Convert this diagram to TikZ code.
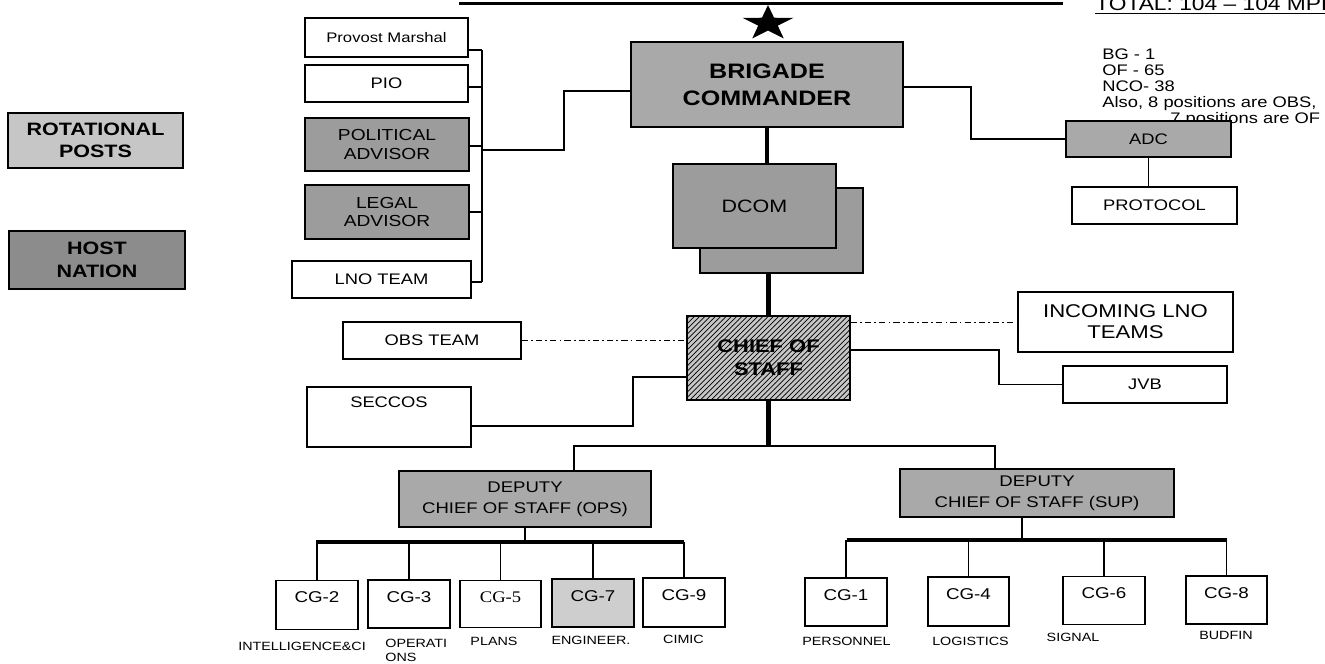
\documentclass[tikz,border=0pt]{standalone}
\usepackage{fontspec}
\setmainfont{Liberation Sans}[FakeStretch=1.2]
\newfontfamily\cgserif{Liberation Serif}[FakeStretch=1.15]
\usetikzlibrary{calc, patterns, shapes.geometric}
\definecolor{rotgray}{HTML}{C6C6C6}
\definecolor{hostgray}{HTML}{8C8C8C}
\definecolor{cmdgray}{HTML}{A9A9A9}
\definecolor{advgray}{HTML}{9C9C9C}
\definecolor{engray}{HTML}{CECECE}
\tikzset{
  post/.style={draw, line width=0.9pt, inner sep=0pt, align=center},
  sz/.style 2 args={minimum width=#1*0.02cm, minimum height=#2*0.02cm},
  link/.style={line width=0.75pt},
  spine/.style={line width=2.8pt},
  dashdot/.style={line width=0.55pt, dash pattern=on 3.5pt off 1.8pt on 1pt off 1.8pt},
  toptext/.style={anchor=north, inner sep=0pt},
  cgtxt/.style={toptext, yshift=-0.24cm, font=\fontsize{8.9}{10}\selectfont},
  caption/.style={inner sep=0pt, font=\fontsize{6.8}{7.9}\selectfont},
  every node/.append style={font=\fontsize{8.7}{10.4}\selectfont}
}

\begin{document}
\begin{tikzpicture}[x=0.02cm, y=-0.02cm]
\useasboundingbox (0,0) rectangle (1325,663);
\draw[line width=1.3pt] (459,3.5) -- (1063,3.5);
\node[anchor=base west, inner sep=0pt, font=\fontsize{10.8}{12}\selectfont] (total) at (1095,10) {TOTAL: 104 – 104 MPF};
\draw[link] ([yshift=-0.07cm]total.base west) -- ([yshift=-0.07cm]total.base east);
\begin{scope}[shift={(768,23.5)}, xscale=1.45]
\node[star, star points=5, star point ratio=2.6, fill=black, inner sep=0pt, minimum size=0.74cm, transform shape] (star) at (0,0) {};
\end{scope}

\node[post, sz={175}{55}, fill=rotgray, font=\bfseries\fontsize{10.2}{12.5}\selectfont] (rot) at (95.5,140.5) {ROTATIONAL\\POSTS};
\node[post, sz={176}{58}, fill=hostgray, font=\bfseries\fontsize{10.2}{12.8}\selectfont] (host) at (97,260) {HOST\\NATION};

\node[post, sz={163}{39}, font=\fontsize{7.9}{9}\selectfont] (pm) at (386.5,37.5) {Provost Marshal};
\node[post, sz={163}{37}] (pio) at (386.5,83.5) {PIO};
\node[post, sz={164}{53}, fill=advgray, font=\fontsize{9.1}{10.6}\selectfont] (pol) at (387,144.5) {POLITICAL\\ADVISOR};
\node[post, sz={164}{54}, fill=advgray, font=\fontsize{9.1}{10.6}\selectfont] (legal) at (387,212) {LEGAL\\ADVISOR};
\node[post, sz={179}{37}] (lno) at (381.5,279.5) {LNO TEAM};

\node[post, sz={272}{85}, fill=cmdgray, font=\bfseries\fontsize{11.9}{15.3}\selectfont] (brig) at (767,84.5) {BRIGADE\\COMMANDER};
\node[post, sz={163}{85}, fill=advgray] (dcomb) at (781.5,230.5) {};
\node[post, sz={163}{84}, fill=advgray, font=\fontsize{10.2}{12}\selectfont] (dcom) at (754.5,206) {DCOM};

\node[anchor=north west, align=left, inner sep=0pt, font=\fontsize{8.7}{9.1}\selectfont] (tally) at (1102,48.5) {BG - 1\\OF - 65\\NCO- 38\\Also, 8 positions are OBS,\\\hspace*{1.36cm}7 positions are OF};
\node[post, sz={165}{36}, fill=cmdgray] (adc) at (1148.5,139) {ADC};
\node[post, sz={165}{37}] (prot) at (1154.5,205.5) {PROTOCOL};

\node[post, sz={163}{84}, preaction={fill=gray!45}, pattern=north east lines, font=\bfseries\fontsize{10.4}{13}\selectfont] (cos) at (768.5,358) {CHIEF OF\\STAFF};
\node[post, sz={178}{37}] (obs) at (432,340.5) {OBS TEAM};
\node[post, sz={164}{60}, label={[toptext, yshift=-0.21cm]north:SECCOS}] (seccos) at (389,417) {};
\node[post, sz={215}{60}, font=\fontsize{10.5}{11.9}\selectfont] (inc) at (1125.5,322) {INCOMING LNO\\TEAMS};
\node[post, sz={164}{37}] (jvb) at (1145,384.5) {JVB};

\node[post, sz={252}{56}, fill=cmdgray, font=\fontsize{8.8}{12}\selectfont] (ops) at (525,499) {DEPUTY\\CHIEF OF STAFF (OPS)};
\node[post, sz={274}{48}, fill=cmdgray, font=\fontsize{8.8}{12}\selectfont] (sup) at (1037,493) {DEPUTY\\CHIEF OF STAFF (SUP)};

\node[post, sz={82}{49}, label={[cgtxt]north:CG-2}] (cg2) at (317,605) {};
\node[post, sz={82}{48}, label={[cgtxt]north:CG-3}] (cg3) at (409,604) {};
\node[post, sz={81}{47}, label={[cgtxt, font=\cgserif\fontsize{9.2}{10}\selectfont]north:CG-5}] (cg5) at (500.5,604) {};
\node[post, sz={82}{48}, fill=engray, label={[cgtxt]north:CG-7}] (cg7) at (593,603) {};
\node[post, sz={82}{49}, label={[cgtxt]north:CG-9}] (cg9) at (684,602.5) {};
\node[post, sz={82}{48}, label={[cgtxt]north:CG-1}] (cg1) at (846,602) {};
\node[post, sz={81}{49}, label={[cgtxt]north:CG-4}] (cg4) at (968.5,601.5) {};
\node[post, sz={82}{48}, label={[cgtxt]north:CG-6}] (cg6) at (1104,600.5) {};
\node[post, sz={81}{48}, label={[cgtxt]north:CG-8}] (cg8) at (1226.5,600) {};

\node[caption] (capint) at (302,646) {INTELLIGENCE\&CI};
\node[caption, anchor=north west, align=left] (capops) at (385,638.5) {OPERATI\\ONS};
\node[caption] (capplans) at (494,641) {PLANS};
\node[caption] (capeng) at (591,640) {ENGINEER.};
\node[caption] (capcimic) at (683.5,639) {CIMIC};
\node[caption] (capper) at (846.5,641) {PERSONNEL};
\node[caption] (caplog) at (970.5,641) {LOGISTICS};
\node[caption] (capsig) at (1073,637) {SIGNAL};
\node[caption] (capbud) at (1226,635) {BUDFIN};

\foreach \b/\yy in {pm/50, pio/87, pol/146, legal/212, lno/282}
  \draw[link] (\b.east |- 0,\yy) -- (482,\yy);
\draw[link] (482,50) -- (482,282);
\draw[link] (482,150) -- (564,150) -- (564,91) -- (brig.west |- 0,91);
\draw[spine] (brig.south) -- (brig.south |- dcom.north);
\draw[spine] (cos.north |- dcomb.south) -- (cos.north);
\draw[link] (brig.east |- 0,87) -- (971,87) |- (adc.west);
\draw[link] (adc.south) -- (adc.south |- prot.north);

\draw[dashdot] (obs.east) -- (obs.east -| cos.west);
\draw[dashdot] (cos.east |- inc.west) -- (inc.west);
\draw[link] (cos.east |- 0,350) -- (999,350) |- (jvb.west);
\draw[link] (seccos.east |- 0,426) -- (633,426) |- (cos.west |- 0,377);

\draw[spine] (cos.south) -- (cos.south |- 0,446);
\draw[link] (ops.north -| 574,0) -- (574,446) -- (995,446) -- (sup.north -| 995,0);

\draw[link] (ops.south) -- (ops.south |- 0,542);
\draw[spine] (316,542) -- (684,542);
\foreach \n in {cg2,cg3,cg5,cg7,cg9}
  \draw[link] (\n.north |- 0,542) -- (\n.north);
\draw[link] (sup.south -| 1022,0) -- (1022,540);
\draw[spine] (846.5,540) -- (1227,540);
\foreach \n in {cg1,cg4,cg6,cg8}
  \draw[link] (\n.north |- 0,540) -- (\n.north);
\end{tikzpicture}
\end{document}
